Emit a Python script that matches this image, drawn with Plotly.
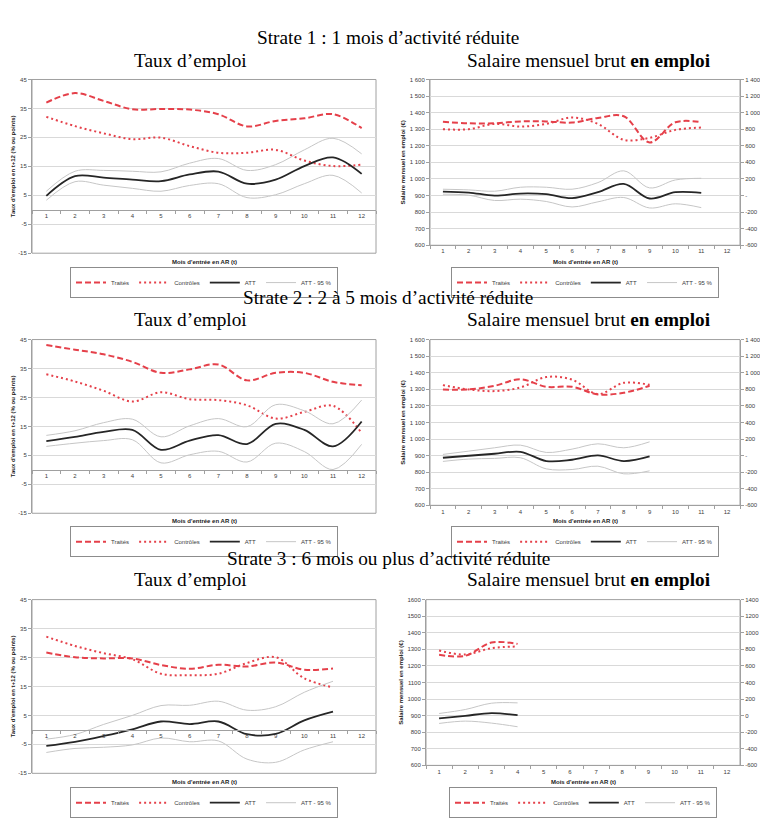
import plotly.graph_objects as go

# ---------------- data ----------------
months = [str(m) for m in range(1, 13)]

# Strate 1 - Taux d'emploi (%)
emp1_trait = [37.0, 40.3, 37.6, 34.7, 34.8, 34.6, 33.0, 28.8, 30.7, 31.6, 33.0, 28.2]
emp1_ctrl = [32.1, 28.9, 26.4, 24.4, 24.9, 22.0, 19.7, 19.7, 20.7, 17.0, 15.1, 15.6]
emp1_att = [4.8, 11.6, 11.1, 10.4, 9.9, 12.2, 13.2, 9.0, 10.4, 15.1, 18.1, 12.4]
emp1_hi = [6.4, 13.3, 13.6, 13.3, 13.1, 16.1, 17.7, 13.6, 15.6, 20.7, 24.7, 19.3]
emp1_lo = [3.3, 9.7, 8.5, 7.4, 6.4, 8.4, 9.0, 4.2, 5.2, 9.0, 11.9, 5.8]

# Strate 1 - Salaire (EUR)
sal1_trait = [1345, 1336, 1336, 1347, 1347, 1340, 1368, 1378, 1220, 1342, 1342]
sal1_ctrl = [1300, 1300, 1332, 1316, 1332, 1371, 1332, 1236, 1248, 1296, 1310]
sal1_att = [48, 36, 0, 24, 16, -32, 40, 140, -36, 40, 32]
sal1_hi = [76, 68, 52, 100, 100, 76, 156, 298, 92, 188, 208]
sal1_lo = [16, 4, -60, -44, -72, -138, -76, -24, -150, -100, -146]

# Strate 2 - Taux d'emploi
emp2_trait = [43.1, 41.5, 39.9, 37.3, 33.5, 34.7, 36.4, 30.9, 33.5, 33.5, 30.4, 29.2]
emp2_ctrl = [33.0, 30.5, 27.3, 23.6, 26.8, 24.4, 24.1, 22.3, 17.7, 20.0, 22.1, 12.7]
emp2_att = [9.9, 11.4, 13.1, 13.8, 6.9, 10.1, 12.0, 8.9, 15.9, 13.8, 8.1, 16.7]
emp2_hi = [11.9, 13.5, 16.3, 17.5, 11.4, 15.2, 17.7, 14.9, 22.5, 20.4, 15.9, 24.1]
emp2_lo = [8.1, 9.2, 10.1, 10.4, 2.4, 5.2, 6.4, 2.7, 9.2, 6.3, 0.1, 8.8]

# Strate 2 - Salaire
sal2_trait = [1299, 1299, 1321, 1360, 1315, 1315, 1269, 1279, 1321]
sal2_ctrl = [1325, 1299, 1289, 1311, 1374, 1358, 1271, 1339, 1327]
sal2_att = [-26, -2, 22, 46, -66, -50, 2, -66, -10]
sal2_hi = [14, 54, 94, 126, 38, 78, 142, 94, 166]
sal2_lo = [-70, -42, -34, -26, -160, -168, -128, -220, -184]

# Strate 3 - Taux d'emploi
emp3_trait = [26.7, 25.1, 24.7, 24.7, 22.4, 21.1, 22.5, 21.9, 23.3, 20.8, 21.2]
emp3_ctrl = [32.2, 29.0, 26.5, 24.4, 19.4, 18.9, 19.4, 23.1, 25.1, 17.8, 14.7]
emp3_att = [-5.5, -4.1, -2.1, 0.2, 2.9, 2.0, 2.9, -1.5, -1.4, 3.3, 6.3]
emp3_hi = [-3.2, -1.6, 1.9, 5.0, 8.4, 8.5, 9.9, 6.8, 8.0, 13.0, 16.8]
emp3_lo = [-7.8, -6.4, -6.0, -5.2, -2.8, -4.1, -3.8, -10.1, -11.2, -6.9, -4.1]

# Strate 3 - Salaire
sal3_trait = [1267, 1261, 1341, 1333]
sal3_ctrl = [1293, 1269, 1307, 1317]
sal3_att = [-34, -2, 30, 6]
sal3_hi = [26, 74, 150, 154]
sal3_lo = [-94, -66, -90, -134]

emp_ticks = [-15, -5, 5, 15, 25, 35, 45]
sal_left_ticks = list(range(600, 1700, 100))
sal_right_ticks = list(range(-600, 1600, 200))

strata_titles = [
    "Strate 1 : 1 mois d\u2019activit\u00e9 r\u00e9duite",
    "Strate 2 : 2 \u00e0 5 mois d\u2019activit\u00e9 r\u00e9duite",
    "Strate 3 : 6 mois ou plus d\u2019activit\u00e9 r\u00e9duite",
]
sub_left = "Taux d\u2019emploi"
sub_right = "Salaire mensuel brut <b>en emploi</b>"
x_title = "Mois d'entr\u00e9e en AR (t)"
y_title_emp = "Taux d'emploi en t+12 (% ou points)"
y_title_sal = "Salaire mensuel en emploi (\u20ac)"
names = ["Trait\u00e9s", "Contr\u00f4les", "ATT", "ATT - 95 %"]

# ---------------- styling / layout ----------------
# the page body adds an 8px margin: figure is sized/positioned to compensate
OFF = 8
W, H = 768 - OFF, 819 - OFF
def fx(x):
    return (x - OFF) / W
def fy(y):
    return 1 - (y - OFF) / H

RED = "#E5404A"
BLACK = "#262626"
GREY = "#C6C6C6"
GRID = "#D9D9D9"
FRAME = "#A0A0A0"
SANS = "Liberation Sans, Arial, sans-serif"
SERIF = "Liberation Serif, Times New Roman, serif"
TF = 6
SF = 19.3

def spaced(v):
    return f"{v:,}".replace(",", " ")

panels = [
    dict(kind="emp", xd=(32, 376), yd=(77, 252), xt=261, lg=266,
         d=(emp1_trait, emp1_ctrl, emp1_att, emp1_hi, emp1_lo)),
    dict(kind="sal", xd=(430, 740), yd=(77, 244), xt=261, lg=266, sep=True,
         d=(sal1_trait, sal1_ctrl, sal1_att, sal1_hi, sal1_lo)),
    dict(kind="emp", xd=(32, 376), yd=(339, 514), xt=522, lg=527,
         d=(emp2_trait, emp2_ctrl, emp2_att, emp2_hi, emp2_lo)),
    dict(kind="sal", xd=(430, 740), yd=(339, 506), xt=522, lg=527, sep=True,
         d=(sal2_trait, sal2_ctrl, sal2_att, sal2_hi, sal2_lo)),
    dict(kind="emp", xd=(32, 376), yd=(601, 776), xt=785, lg=790,
         d=(emp3_trait, emp3_ctrl, emp3_att, emp3_hi, emp3_lo)),
    dict(kind="sal", xd=(426, 740), yd=(601, 768), xt=785, lg=790, sep=False,
         d=(sal3_trait, sal3_ctrl, sal3_att, sal3_hi, sal3_lo)),
]

fig = go.Figure()
layout = {}
annotations = []
shapes = []

tickfont = dict(family=SANS, size=TF, color="#404040")
titlefont = dict(family=SANS, size=TF, color="#202020", weight="bold")

def ref(letter, n):
    return letter if n == 1 else f"{letter}{n}"

for i, p in enumerate(panels, start=1):
    xa = ref("x", i)
    ya = ref("y", i)
    ya_r = f"y{i + 6}"
    lg = "legend" if i == 1 else f"legend{i}"
    trait, ctrl, att, hi, lo = p["d"]
    xdom = [fx(p["xd"][0]), fx(p["xd"][1])]
    ydom = [fy(p["yd"][1]), fy(p["yd"][0])]
    att_axis = ya if p["kind"] == "emp" else ya_r

    def add(y, name, color, width, dash, yaxis, show=True, group=None):
        fig.add_trace(go.Scatter(
            x=months[:len(y)], y=y, name=name, mode="lines",
            line=dict(color=color, width=width, dash=dash, shape="spline", smoothing=1.0),
            xaxis=xa, yaxis=yaxis, legend=lg, showlegend=show,
            legendgroup=group, hoverinfo="skip"))

    add(trait, names[0], RED, 2, "6px,3px", ya)
    add(ctrl, names[1], RED, 2, "2px,3px", ya)
    add(att, names[2], BLACK, 1.8, "solid", att_axis)
    add(hi, names[3], GREY, 1, "solid", att_axis, True, f"ci{i}")
    add(lo, names[3], GREY, 1, "solid", att_axis, False, f"ci{i}")

    xkey = "xaxis" if i == 1 else f"xaxis{i}"
    ykey = "yaxis" if i == 1 else f"yaxis{i}"
    xaxis = dict(domain=xdom, type="category", categoryorder="array",
                 categoryarray=months, range=[-0.5, 11.5],
                 tickson="boundaries", ticks="outside", ticklen=3,
                 tickcolor=FRAME, showline=True, linecolor=FRAME, linewidth=1,
                 showgrid=False, zeroline=False, tickfont=tickfont,
                 fixedrange=True)
    if p["kind"] == "emp":
        frac = (0 - emp_ticks[0]) / (emp_ticks[-1] - emp_ticks[0])
        xaxis.update(anchor="free", position=ydom[0] + frac * (ydom[1] - ydom[0]))
        layout[ykey] = dict(domain=ydom, anchor=xa, range=[emp_ticks[0], emp_ticks[-1]],
                            tickvals=emp_ticks, ticktext=[str(v) for v in emp_ticks],
                            showgrid=True, gridcolor=GRID, gridwidth=1,
                            zeroline=False, ticks="outside", ticklen=3, tickcolor=FRAME,
                            showline=True, linecolor=FRAME, tickfont=tickfont,
                            title=dict(text=y_title_emp, font=titlefont, standoff=2))
    else:
        xaxis.update(anchor=ya)
        fmt = spaced if p["sep"] else (lambda v: str(v))
        rtext = [("-" if (v == 0 and p["sep"]) else fmt(v)) for v in sal_right_ticks]
        layout[ykey] = dict(domain=ydom, anchor=xa, range=[sal_left_ticks[0], sal_left_ticks[-1]],
                            tickvals=sal_left_ticks, ticktext=[fmt(v) for v in sal_left_ticks],
                            showgrid=True, gridcolor=GRID, gridwidth=1,
                            zeroline=False, ticks="outside", ticklen=3, tickcolor=FRAME,
                            showline=True, linecolor=FRAME, tickfont=tickfont,
                            title=dict(text=y_title_sal, font=titlefont, standoff=3))
        layout[f"yaxis{i + 6}"] = dict(overlaying=ya, side="right", anchor=xa,
                                       range=[sal_right_ticks[0], sal_right_ticks[-1]],
                                       tickvals=sal_right_ticks, ticktext=rtext,
                                       showgrid=False, zeroline=False, ticks="outside",
                                       ticklen=3, tickcolor=FRAME, showline=True,
                                       linecolor=FRAME, tickfont=tickfont)
    layout[xkey] = xaxis

    # plot-area frame
    shapes.append(dict(type="rect", xref=f"{xa} domain", yref=f"{ya} domain",
                       x0=0, x1=1, y0=0, y1=1, line=dict(color=FRAME, width=1),
                       layer="below"))
    # x-axis title
    cx = (xdom[0] + xdom[1]) / 2
    annotations.append(dict(text=x_title, x=cx, y=fy(p["xt"]), xref="paper", yref="paper",
                            showarrow=False, font=titlefont, xanchor="center", yanchor="middle"))
    # legend
    layout[lg] = dict(orientation="h", x=cx, y=fy(p["lg"]), xanchor="center", yanchor="top",
                      bordercolor="#8C8C8C", borderwidth=1, bgcolor="white",
                      font=dict(family=SANS, size=TF, color="#404040"),
                      itemwidth=30, traceorder="normal", tracegroupgap=0)

# titles
title_rows = [(35, 58), (297, 319), (560, 581)]
for (ty, sy), t in zip(title_rows, strata_titles):
    annotations.append(dict(text=t, x=fx(388), y=fy(ty), xref="paper", yref="paper",
                            showarrow=False, font=dict(family=SERIF, size=SF, color="black"),
                            xanchor="center", yanchor="middle"))
    annotations.append(dict(text=sub_left, x=fx(190), y=fy(sy), xref="paper", yref="paper",
                            showarrow=False, font=dict(family=SERIF, size=SF, color="black"),
                            xanchor="center", yanchor="middle"))
    annotations.append(dict(text=sub_right, x=fx(589), y=fy(sy), xref="paper", yref="paper",
                            showarrow=False, font=dict(family=SERIF, size=SF, color="black"),
                            xanchor="center", yanchor="middle"))

fig.update_layout(
    width=W, height=H, margin=dict(l=0, r=0, t=0, b=0),
    paper_bgcolor="white", plot_bgcolor="white",
    annotations=annotations, shapes=shapes, **layout,
)

fig.write_html("out.html")
